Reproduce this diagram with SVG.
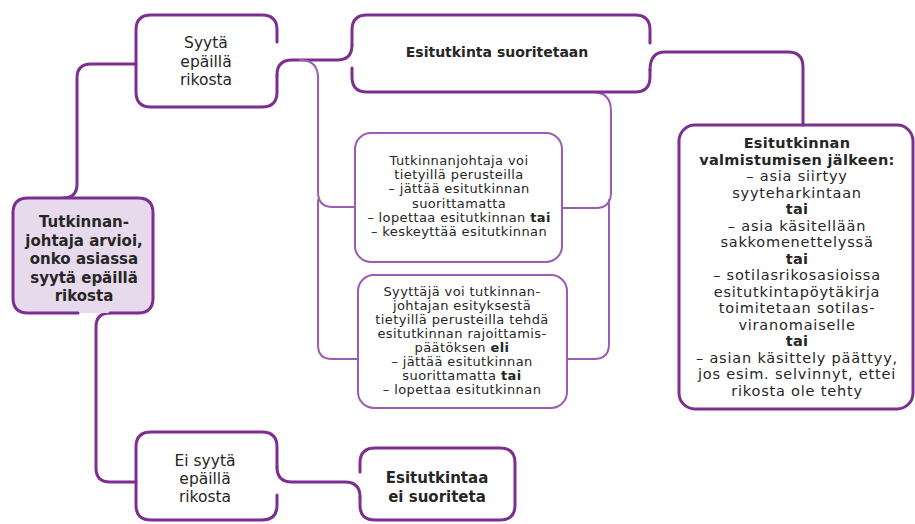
<svg xmlns="http://www.w3.org/2000/svg" width="915" height="524" viewBox="0 0 915 524">
<style>
.thick{fill:none;stroke:#7d2f91;stroke-width:3;stroke-linecap:round;stroke-linejoin:round}
.thin{fill:none;stroke:#9b5db4;stroke-width:2;stroke-linecap:round;stroke-linejoin:round}
text{font-family:"DejaVu Sans",Verdana,sans-serif;fill:#262626;text-anchor:middle}
.m{font-size:15.5px}
.b{font-size:15px;font-weight:bold}
.h{font-size:14px;font-weight:bold}
.s{font-size:13px;letter-spacing:0.4px}
.r{font-size:14.5px;letter-spacing:0.8px}
.rb{font-size:14.5px;font-weight:bold;letter-spacing:0.3px}
.bb{font-weight:bold}
</style>
<rect width="915" height="524" fill="#ffffff"/>
<g id="connectors">
<path class="thick" d="M136 64 L91 64 Q77 64 77 78 L77 184 Q77 198 63 198"/>
<path class="thick" d="M110 313 Q96 313 96 327 L96 468 Q96 482 110 482 L136 482"/>
<path class="thick" d="M277 75 Q277 60 292 60 L337 60 Q352 60 352 45"/>
<path class="thick" d="M650 70 Q650 52 665 52 L788 52 Q803 52 803 67 L803 125"/>
<path class="thick" d="M277 467 Q277 482 292 482 L345 482 Q360 482 360 497"/>
<path class="thin" d="M300 60 Q318 60 318 78 L318 192 Q318 207 333 207 L355 207"/>
<path class="thin" d="M318 200 L318 345 Q318 359 332 359 L358 359"/>
<path class="thin" d="M592 92 Q611 92 611 111 L611 192 Q611 208 596 208 L562 208"/>
<path class="thin" d="M609 200 L609 344 Q609 359 594 359 L567 359"/>
</g>
<g id="n-arvio">
<rect x="13" y="198" width="140" height="115" rx="15" fill="#e8daed"/>
<path class="thick" d="M78 313 L28 313 Q13 313 13 298 L13 213 Q13 198 28 198 L138 198 Q153 198 153 213 L153 298 Q153 313 138 313 L110 313"/>
<text class="b" x="84" y="227">Tutkinnan-</text>
<text class="b" x="84" y="246">johtaja arvioi,</text>
<text class="b" x="84" y="264">onko asiassa</text>
<text class="b" x="84" y="283">syytä epäillä</text>
<text class="b" x="84" y="301">rikosta</text>
</g>
<g id="n-syyta">
<path class="thick" d="M277 42 L277 30 Q277 15 262 15 L151 15 Q136 15 136 30 L136 92 Q136 107 151 107 L262 107 Q277 107 277 92 L277 75"/>
<text class="m" x="206" y="48">Syytä</text>
<text class="m" x="206" y="67">epäillä</text>
<text class="m" x="206" y="85">rikosta</text>
</g>
<g id="n-suoritetaan">
<path class="thick" d="M352 45 L352 30 Q352 15 367 15 L635 15 Q650 15 650 30 L650 43 M352 68 L352 77 Q352 92 367 92 L635 92 Q650 92 650 77 L650 70"/>
<text class="h" x="497" y="57">Esitutkinta suoritetaan</text>
</g>
<g id="n-tutkinnanjohtaja">
<rect class="thin" x="355" y="133" width="207" height="129" rx="16"/>
<text class="s" x="459" y="165">Tutkinnanjohtaja voi</text>
<text class="s" x="459" y="179">tietyillä perusteilla</text>
<text class="s" x="459" y="193">– jättää esitutkinnan</text>
<text class="s" x="459" y="208">suorittamatta</text>
<text class="s" x="459" y="222">– lopettaa esitutkinnan <tspan class="bb">tai</tspan></text>
<text class="s" x="459" y="236">– keskeyttää esitutkinnan</text>
</g>
<g id="n-syyttaja">
<rect class="thin" x="358" y="275" width="209" height="133" rx="16"/>
<text class="s" x="462" y="296">Syyttäjä voi tutkinnan-</text>
<text class="s" x="462" y="310">johtajan esityksestä</text>
<text class="s" x="462" y="324">tietyillä perusteilla tehdä</text>
<text class="s" x="462" y="338">esitutkinnan rajoittamis-</text>
<text class="s" x="462" y="352">päätöksen <tspan class="bb">eli</tspan></text>
<text class="s" x="462" y="366">– jättää esitutkinnan</text>
<text class="s" x="462" y="380">suorittamatta <tspan class="bb">tai</tspan></text>
<text class="s" x="462" y="394">– lopettaa esitutkinnan</text>
</g>
<g id="n-jalkeen">
<rect class="thick" x="679" y="125" width="234" height="284" rx="16"/>
<text class="rb" x="797" y="148">Esitutkinnan</text>
<text class="rb" x="797" y="164.5">valmistumisen jälkeen:</text>
<text class="r" x="797" y="181">– asia siirtyy</text>
<text class="r" x="797" y="197.5">syyteharkintaan</text>
<text class="rb" x="797" y="214">tai</text>
<text class="r" x="797" y="230.5">– asia käsitellään</text>
<text class="r" x="797" y="247">sakkomenettelyssä</text>
<text class="rb" x="797" y="263.5">tai</text>
<text class="r" x="797" y="280">– sotilasrikosasioissa</text>
<text class="r" x="797" y="296.5">esitutkintapöytäkirja</text>
<text class="r" x="797" y="313">toimitetaan sotilas-</text>
<text class="r" x="797" y="329.5">viranomaiselle</text>
<text class="rb" x="797" y="346">tai</text>
<text class="r" x="797" y="362.5">– asian käsittely päättyy,</text>
<text class="r" x="797" y="379">jos esim. selvinnyt, ettei</text>
<text class="r" x="797" y="395.5">rikosta ole tehty</text>
</g>
<g id="n-eisyyta">
<path class="thick" d="M277 467 L277 447 Q277 432 262 432 L151 432 Q136 432 136 447 L136 505 Q136 520 151 520 L262 520 Q277 520 277 505 L277 495"/>
<text class="m" x="205" y="466">Ei syytä</text>
<text class="m" x="205" y="484">epäillä</text>
<text class="m" x="205" y="502">rikosta</text>
</g>
<g id="n-eisuoriteta">
<path class="thick" d="M360 497 L360 505 Q360 520 375 520 L500 520 Q515 520 515 505 L515 463 Q515 448 500 448 L375 448 Q360 448 360 463 L360 472"/>
<text class="b" x="437" y="483">Esitutkintaa</text>
<text class="b" x="437" y="502">ei suoriteta</text>
</g>
</svg>
